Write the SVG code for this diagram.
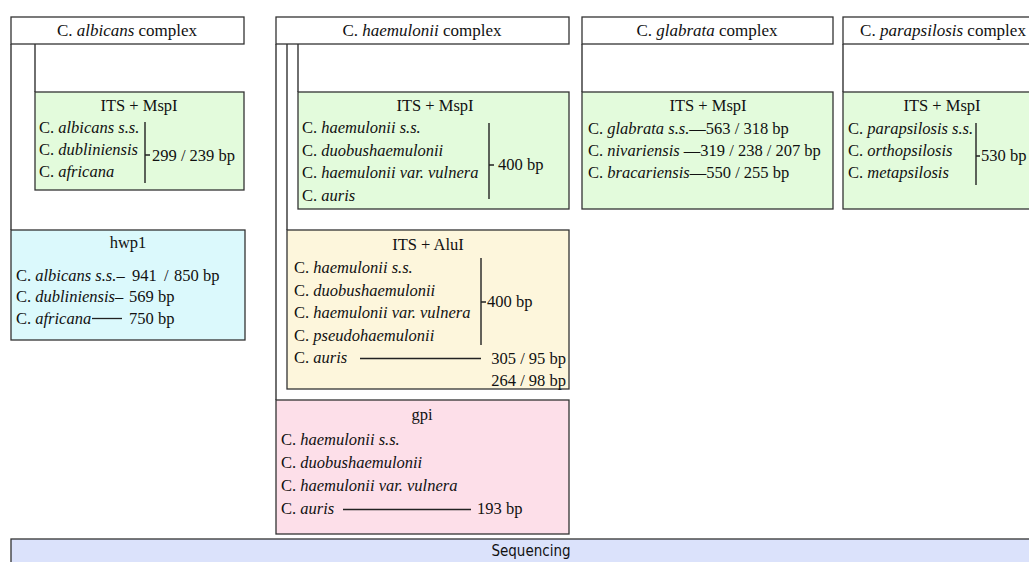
<svg xmlns="http://www.w3.org/2000/svg" width="1029" height="562" viewBox="0 0 1029 562">
<style>
.box{stroke:#333;stroke-width:1.3}
.hdr{fill:#fff}
.grn{fill:#e3fbdc}
.cyn{fill:#dbf9fc}
.yel{fill:#fdf6dc}
.pnk{fill:#fddfe9}
.seq{fill:#dbe2fb}
.ln{stroke:#222;stroke-width:1.3;fill:none}
.br{stroke:#222;stroke-width:1.4;fill:none}
text{font-family:"Liberation Serif","Times New Roman",serif;font-size:16.5px;fill:#111}
.h{font-size:17px}
.c{text-anchor:middle}
.r{text-anchor:end}
.i{font-style:italic}
.s{font-family:"Liberation Sans Narrow","DejaVu Sans Condensed","Liberation Sans",Arial,sans-serif;font-size:15px}
</style>
<g id="connectors">
<line class="ln" x1="11" y1="44" x2="11" y2="230"/>
<line class="ln" x1="35" y1="44" x2="35" y2="92"/>
<line class="ln" x1="276" y1="44" x2="276" y2="400"/>
<line class="ln" x1="287" y1="44" x2="287" y2="230"/>
<line class="ln" x1="298" y1="44" x2="298" y2="92"/>
<line class="ln" x1="582" y1="44" x2="582" y2="92"/>
<line class="ln" x1="843" y1="44" x2="843" y2="92"/>
</g>
<g id="albicans-header">
<rect class="box hdr" x="11" y="17" width="233" height="27"/>
<text class="h c" x="127" y="36">C. <tspan class="i">albicans</tspan> complex</text>
</g>
<g id="albicans-its">
<rect class="box grn" x="35" y="92" width="209" height="98"/>
<text class="c" x="139" y="111">ITS + MspI</text>
<text x="39" y="133">C. <tspan class="i">albicans s.s.</tspan></text>
<text x="39" y="155">C. <tspan class="i">dubliniensis</tspan></text>
<text x="39" y="177">C. <tspan class="i">africana</tspan></text>
<path class="br" d="M145 122V183M145 155H150"/>
<text x="152" y="161">299 / 239 bp</text>
</g>
<g id="hwp1">
<rect class="box cyn" x="11" y="230" width="234" height="110"/>
<text class="c" x="128" y="248">hwp1</text>
<text x="16" y="281">C. <tspan class="i">albicans s.s.</tspan>–</text>
<text x="132" y="281">941</text>
<text x="164" y="281">/</text>
<text x="174" y="281">850 bp</text>
<text x="16" y="302">C. <tspan class="i">dubliniensis</tspan>–</text>
<text x="129" y="302">569 bp</text>
<text x="16" y="324">C. <tspan class="i">africana</tspan></text>
<line class="ln" x1="92" y1="318.5" x2="122" y2="318.5"/>
<text x="129" y="324">750 bp</text>
</g>
<g id="haemulonii-header">
<rect class="box hdr" x="276" y="17" width="293" height="27"/>
<text class="h c" x="422" y="36">C. <tspan class="i">haemulonii</tspan> complex</text>
</g>
<g id="haemulonii-its">
<rect class="box grn" x="298" y="92" width="271" height="117"/>
<text class="c" x="435" y="111">ITS + MspI</text>
<text x="302" y="133">C. <tspan class="i">haemulonii s.s.</tspan></text>
<text x="302" y="156">C. <tspan class="i">duobushaemulonii</tspan></text>
<text x="302" y="178">C. <tspan class="i">haemulonii var. vulnera</tspan></text>
<text x="302" y="201">C. <tspan class="i">auris</tspan></text>
<path class="br" d="M489 123V199M489 165H494"/>
<text x="498" y="170">400 bp</text>
</g>
<g id="haemulonii-alui">
<rect class="box yel" x="287" y="230" width="282" height="159"/>
<text class="c" x="428" y="250">ITS + AluI</text>
<text x="294" y="273">C. <tspan class="i">haemulonii s.s.</tspan></text>
<text x="294" y="296">C. <tspan class="i">duobushaemulonii</tspan></text>
<text x="294" y="318">C. <tspan class="i">haemulonii var. vulnera</tspan></text>
<text x="294" y="341">C. <tspan class="i">pseudohaemulonii</tspan></text>
<text x="294" y="363">C. <tspan class="i">auris</tspan></text>
<path class="br" d="M481 258V345M481 302H486"/>
<text x="487" y="307">400 bp</text>
<line class="ln" x1="360" y1="358.5" x2="481" y2="358.5"/>
<text class="r" x="566" y="364">305 / 95 bp</text>
<text class="r" x="566" y="386">264 / 98 bp</text>
</g>
<g id="haemulonii-gpi">
<rect class="box pnk" x="276" y="400" width="293" height="134"/>
<text class="c" x="422" y="420">gpi</text>
<text x="281" y="445">C. <tspan class="i">haemulonii s.s.</tspan></text>
<text x="281" y="468">C. <tspan class="i">duobushaemulonii</tspan></text>
<text x="281" y="491">C. <tspan class="i">haemulonii var. vulnera</tspan></text>
<text x="281" y="514">C. <tspan class="i">auris</tspan></text>
<line class="ln" x1="343" y1="509.5" x2="471" y2="509.5"/>
<text x="477" y="514">193 bp</text>
</g>
<g id="glabrata-header">
<rect class="box hdr" x="582" y="17" width="251" height="27"/>
<text class="h c" x="707" y="36">C. <tspan class="i">glabrata</tspan> complex</text>
</g>
<g id="glabrata-its">
<rect class="box grn" x="582" y="92" width="251" height="117"/>
<text class="c" x="708" y="111">ITS + MspI</text>
<text x="588" y="134">C. <tspan class="i">glabrata s.s.</tspan>—563 / 318 bp</text>
<text x="588" y="156">C. <tspan class="i">nivariensis</tspan> —319 / 238 / 207 bp</text>
<text x="588" y="178">C. <tspan class="i">bracariensis</tspan>—550 / 255 bp</text>
</g>
<g id="parapsilosis-header">
<rect class="box hdr" x="843" y="17" width="200" height="27"/>
<text class="h c" x="943" y="36">C. <tspan class="i">parapsilosis</tspan> complex</text>
</g>
<g id="parapsilosis-its">
<rect class="box grn" x="843" y="92" width="200" height="117"/>
<text class="c" x="942" y="111">ITS + MspI</text>
<text x="848" y="134">C. <tspan class="i">parapsilosis s.s.</tspan></text>
<text x="848" y="156">C. <tspan class="i">orthopsilosis</tspan></text>
<text x="848" y="178">C. <tspan class="i">metapsilosis</tspan></text>
<path class="br" d="M976 123V185M976 156H980"/>
<text x="981" y="161">530 bp</text>
</g>
<g id="sequencing">
<rect class="box seq" x="11" y="539" width="1030" height="30"/>
<text class="s c" x="531" y="556">Sequencing</text>
</g>
</svg>
